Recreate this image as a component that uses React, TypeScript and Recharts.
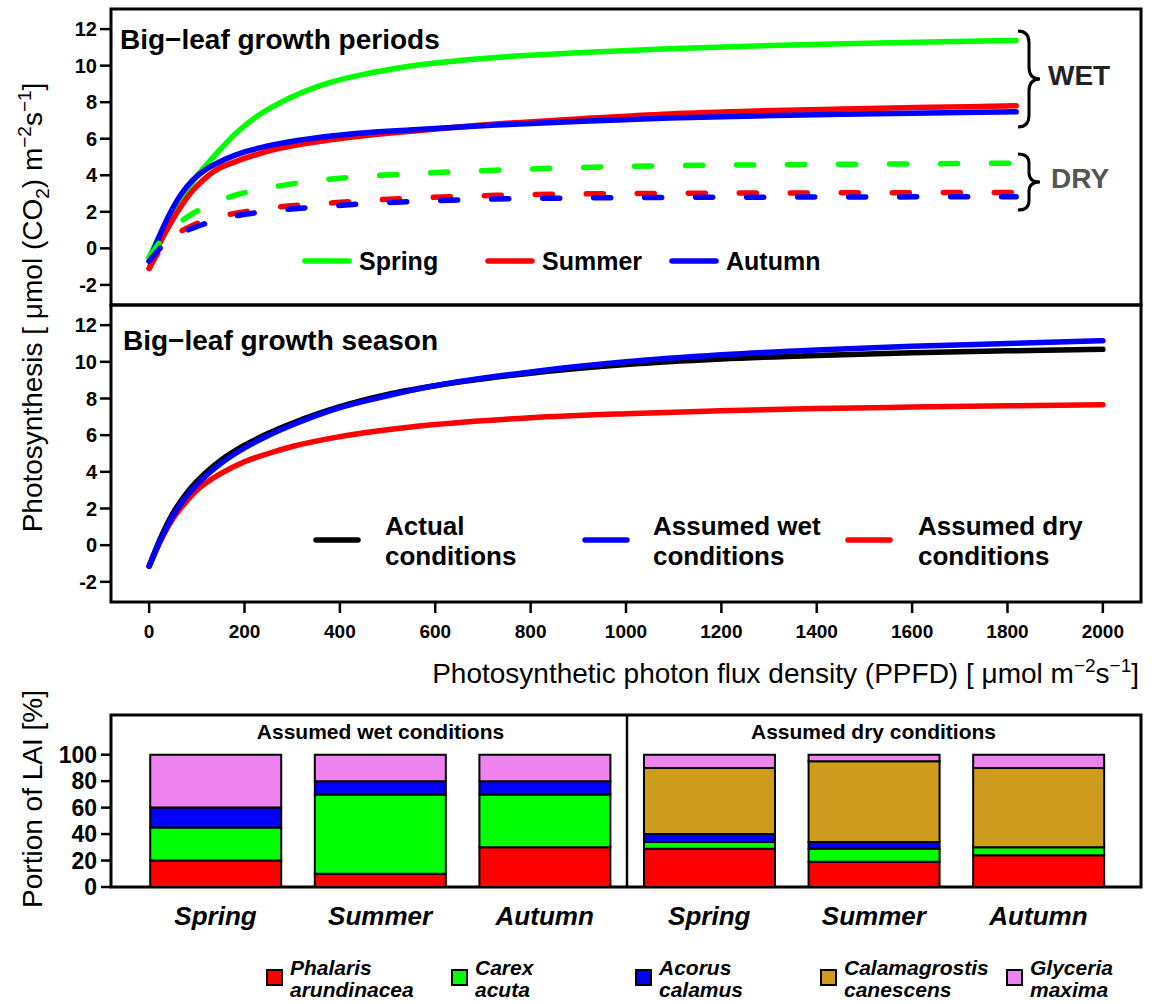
import React from "react";
import { LineChart, Line, XAxis, YAxis, ReferenceArea, ReferenceLine, BarChart, Bar } from "recharts";

const FONT = "'Liberation Sans', Arial, Helvetica, sans-serif";

// top panel: big-leaf growth periods
const ppfdPeriods = [0, 25, 50, 75, 100, 125, 150, 200, 250, 300, 400, 500, 600, 800, 1000, 1200, 1400, 1600, 1800, 2000];
const springWet = [-0.5, 0.75, 1.8, 2.78, 3.63, 4.38, 5.05, 6.3, 7.25, 7.95, 8.95, 9.55, 9.97, 10.45, 10.72, 10.92, 11.08, 11.2, 11.3, 11.38];
const summerWet = [-1.1, 0.3, 1.4, 2.35, 3.15, 3.75, 4.22, 4.75, 5.15, 5.47, 5.88, 6.17, 6.4, 6.8, 7.1, 7.36, 7.52, 7.63, 7.72, 7.8];
const autumnWet = [-0.7, 0.75, 2.0, 3.0, 3.72, 4.22, 4.58, 5.12, 5.47, 5.73, 6.1, 6.33, 6.48, 6.75, 6.95, 7.13, 7.25, 7.34, 7.41, 7.47];
const springDry = [-0.5, 0.35, 1.0, 1.5, 1.9, 2.22, 2.5, 2.92, 3.2, 3.42, 3.75, 3.95, 4.08, 4.28, 4.43, 4.52, 4.57, 4.6, 4.63, 4.66];
const summerDry = [-1.1, -0.1, 0.55, 0.95, 1.25, 1.48, 1.65, 1.93, 2.1, 2.27, 2.45, 2.62, 2.74, 2.9, 2.98, 3.01, 3.03, 3.04, 3.05, 3.06];
const autumnDry = [-0.7, 0.0, 0.5, 0.85, 1.1, 1.32, 1.5, 1.78, 1.96, 2.1, 2.28, 2.45, 2.56, 2.7, 2.76, 2.79, 2.8, 2.81, 2.82, 2.83];

// middle panel: big-leaf growth season
const ppfdSeason = [0, 25, 50, 75, 100, 125, 150, 200, 250, 300, 400, 500, 600, 800, 1000, 1200, 1400, 1600, 1800, 2000];
const actualCond = [-1.15, 0.45, 1.75, 2.72, 3.48, 4.1, 4.62, 5.45, 6.1, 6.65, 7.55, 8.22, 8.7, 9.38, 9.85, 10.15, 10.35, 10.5, 10.6, 10.68];
const wetCond = [-1.15, 0.35, 1.6, 2.55, 3.3, 3.92, 4.45, 5.3, 5.98, 6.55, 7.5, 8.15, 8.7, 9.45, 10.0, 10.38, 10.65, 10.85, 11.0, 11.15];
const dryCond = [-1.15, 0.3, 1.45, 2.3, 3.0, 3.5, 3.9, 4.55, 5.0, 5.38, 5.92, 6.3, 6.58, 6.95, 7.17, 7.33, 7.45, 7.53, 7.6, 7.66];

const xTicks = [0, 200, 400, 600, 800, 1000, 1200, 1400, 1600, 1800, 2000];
const yTicks = [-2, 0, 2, 4, 6, 8, 10, 12];

// bottom panel: portion of LAI [%]
const seasons = ["Spring", "Summer", "Autumn", "Spring", "Summer", "Autumn"];
const phalaris = [20, 10, 30, 29, 19, 24];
const carex = [25, 60, 40, 5, 10, 6];
const acorus = [15, 10, 10, 6, 5, 0];
const calamagrostis = [0, 0, 0, 50, 61, 60];
const glyceria = [40, 20, 20, 10, 5, 10];
const laiTicks = [0, 10, 20, 30, 40, 50, 60, 70, 80, 90, 100];

const genus = ["Phalaris", "Carex", "Acorus", "Calamagrostis", "Glyceria"];
const epithet = ["arundinacea", "acuta", "calamus", "canescens", "maxima"];
const speciesKeys = ["phalaris", "carex", "acorus", "calamagrostis", "glyceria"];
const speciesColors = ["#ff0000", "#00ff00", "#0000ff", "#cd9b1d", "#ee82ee"];

const periodRows = ppfdPeriods.map((p, i) => ({
  ppfd: p,
  springWet: springWet[i],
  summerWet: summerWet[i],
  autumnWet: autumnWet[i],
  springDry: springDry[i],
  summerDry: summerDry[i],
  autumnDry: autumnDry[i],
}));

const seasonRows = ppfdSeason.map((p, i) => ({
  ppfd: p,
  actual: actualCond[i],
  wet: wetCond[i],
  dry: dryCond[i],
}));

const laiRows = seasons.map((s, i) => ({
  pos: i + 1,
  season: s,
  phalaris: phalaris[i],
  carex: carex[i],
  acorus: acorus[i],
  calamagrostis: calamagrostis[i],
  glyceria: glyceria[i],
}));

const tickLine = { stroke: "#000", strokeWidth: 2.5 };
const tickFont = { fill: "#000", fontSize: 20, fontWeight: 700, fontFamily: FONT };
const LW = 5.5;

const LaiTick = (props: any) => {
  const { x, y, payload } = props;
  if (payload.value % 20 !== 0) return <g />;
  return (
    <text x={x} y={y} dy="0.36em" textAnchor="end" fill="#000" fontSize={23} fontWeight={700} fontFamily={FONT}>
      {payload.value}
    </text>
  );
};

const SeasonTick = (props: any) => {
  const { x, y, payload } = props;
  return (
    <text x={x} y={y} dy={38} textAnchor="middle" fill="#000" fontSize={26} fontWeight={700} fontStyle="italic" fontFamily={FONT}>
      {seasons[payload.value - 1]}
    </text>
  );
};

function brace(x: number, y0: number, y1: number, w: number) {
  const ym = (y0 + y1) / 2;
  const xm = x + w * 0.5;
  const q = Math.min(12, (y1 - y0) / 6);
  return `M${x},${y0} Q${xm},${y0} ${xm},${y0 + q} L${xm},${ym - q} Q${xm},${ym} ${x + w},${ym} Q${xm},${ym} ${xm},${ym + q} L${xm},${y1 - q} Q${xm},${y1} ${x},${y1}`;
}

export default function App() {
  return (
    <div style={{ position: "absolute", left: 0, top: 0, width: 1155, height: 1004, background: "#fff", fontFamily: FONT }}>
      <div style={{ position: "absolute", left: 0, top: 0 }}>
        <LineChart width={1155} height={330} data={periodRows} margin={{ top: 9, right: 14, bottom: 0, left: 0 }}>
          <XAxis dataKey="ppfd" type="number" domain={[-88, 2288]} ticks={xTicks} tick={false} tickSize={11} height={25} axisLine={false} tickLine={tickLine} />
          <YAxis type="number" domain={[-3.1, 13.1]} ticks={yTicks} width={111} tickSize={11} tickMargin={3} axisLine={false} tickLine={tickLine} tick={tickFont} />
          <ReferenceArea x1={-88} x2={2288} y1={-3.1} y2={13.1} fill="none" stroke="#000" strokeWidth={3} />
          <Line type="monotone" dataKey="springWet" stroke="#00ff00" strokeWidth={LW} dot={false} strokeLinecap="round" isAnimationActive={false} />
          <Line type="monotone" dataKey="summerWet" stroke="#ff0000" strokeWidth={LW} dot={false} strokeLinecap="round" isAnimationActive={false} />
          <Line type="monotone" dataKey="autumnWet" stroke="#0000ff" strokeWidth={LW} dot={false} strokeLinecap="round" isAnimationActive={false} />
          <Line type="monotone" dataKey="springDry" stroke="#00ff00" strokeWidth={LW} strokeDasharray="17 34" dot={false} strokeLinecap="round" isAnimationActive={false} />
          <Line type="monotone" dataKey="summerDry" stroke="#ff0000" strokeWidth={LW} strokeDasharray="17 34" dot={false} strokeLinecap="round" isAnimationActive={false} />
          <Line type="monotone" dataKey="autumnDry" stroke="#0000ff" strokeWidth={LW} strokeDasharray="17 34" dot={false} strokeLinecap="round" isAnimationActive={false} />
        </LineChart>
      </div>

      <div style={{ position: "absolute", left: 0, top: 0 }}>
        <LineChart width={1155} height={642} data={seasonRows} margin={{ top: 305, right: 14, bottom: 0, left: 0 }}>
          <XAxis dataKey="ppfd" type="number" domain={[-80, 2080]} ticks={xTicks} tickSize={11} tickMargin={12} height={40} axisLine={false} tickLine={tickLine} tick={{ ...tickFont, fontSize: 19 }} />
          <YAxis type="number" domain={[-3.1, 13.1]} ticks={yTicks} width={111} tickSize={11} tickMargin={3} axisLine={false} tickLine={tickLine} tick={tickFont} />
          <ReferenceArea x1={-80} x2={2080} y1={-3.1} y2={13.1} fill="none" stroke="#000" strokeWidth={3} />
          <Line type="monotone" dataKey="dry" stroke="#ff0000" strokeWidth={LW} dot={false} strokeLinecap="round" isAnimationActive={false} />
          <Line type="monotone" dataKey="actual" stroke="#000000" strokeWidth={LW} dot={false} strokeLinecap="round" isAnimationActive={false} />
          <Line type="monotone" dataKey="wet" stroke="#0000ff" strokeWidth={LW} dot={false} strokeLinecap="round" isAnimationActive={false} />
        </LineChart>
      </div>

      <div style={{ position: "absolute", left: 0, top: 700 }}>
        <BarChart width={1155} height={245} data={laiRows} margin={{ top: 15, right: 14, bottom: 0, left: 0 }}>
          <XAxis dataKey="pos" type="number" domain={[0.365, 6.623]} ticks={[1, 2, 3, 4, 5, 6]} tickSize={0} tickMargin={0} height={58} axisLine={false} tickLine={false} tick={<SeasonTick />} />
          <YAxis type="number" domain={[0, 130]} ticks={laiTicks} width={111} tickSize={10} tickMargin={4} axisLine={false} tickLine={tickLine} tick={<LaiTick />} />
          {speciesKeys.map((k, i) => (
            <Bar key={k} dataKey={k} stackId="lai" fill={speciesColors[i]} stroke="#000" strokeWidth={2} barSize={131} isAnimationActive={false} />
          ))}
          <ReferenceLine x={3.5} stroke="#000" strokeWidth={2.5} />
          <ReferenceArea x1={0.365} x2={6.623} y1={0} y2={130} fill="none" stroke="#000" strokeWidth={3} />
        </BarChart>
      </div>

      <svg width={1155} height={1004} style={{ position: "absolute", left: 0, top: 0, pointerEvents: "none" }} fontFamily={FONT}>
        <text x={120} y={48.5} fontSize={28} fontWeight={700}>Big−leaf growth periods</text>
        <text x={123} y={350} fontSize={28} fontWeight={700}>Big−leaf growth season</text>

        <path d={brace(1018, 31, 127, 22)} fill="none" stroke="#000" strokeWidth={3} />
        <path d={brace(1018, 154, 210, 22)} fill="none" stroke="#000" strokeWidth={3} />
        <text x={1048} y={85} fontSize={28} fontWeight={700} fill="#222">WET</text>
        <text x={1051} y={188} fontSize={28} fontWeight={700} fill="#555">DRY</text>

        {/* growth periods legend */}
        {[
          { c: "#00ff00", x: 302, t: "Spring" },
          { c: "#ff0000", x: 485, t: "Summer" },
          { c: "#0000ff", x: 669, t: "Autumn" },
        ].map((d) => (
          <g key={d.t}>
            <line x1={d.x + 3} x2={d.x + 47} y1={261} y2={261} stroke={d.c} strokeWidth={5.5} strokeLinecap="round" />
            <text x={d.x + 57} y={270} fontSize={25} fontWeight={700}>{d.t}</text>
          </g>
        ))}

        {/* growth season legend */}
        {[
          { c: "#000000", x: 313, a: "Actual", tx: 385 },
          { c: "#0000ff", x: 582, a: "Assumed wet", tx: 653 },
          { c: "#ff0000", x: 845, a: "Assumed dry", tx: 918 },
        ].map((d) => (
          <g key={d.a}>
            <line x1={d.x + 3} x2={d.x + 45} y1={540} y2={540} stroke={d.c} strokeWidth={5.5} strokeLinecap="round" />
            <text x={d.tx} y={535} fontSize={26} fontWeight={700}>{d.a}</text>
            <text x={d.tx} y={565} fontSize={26} fontWeight={700}>conditions</text>
          </g>
        ))}

        {/* axis titles */}
        <text transform="rotate(-90)" x={-307.5} y={42} textAnchor="middle" fontSize={28}>
          Photosynthesis [ μmol (CO<tspan dy={7} fontSize={19}>2</tspan>
          <tspan dy={-7}>) m</tspan>
          <tspan dy={-11} fontSize={19}>−2</tspan>
          <tspan dy={11}>s</tspan>
          <tspan dy={-11} fontSize={19}>−1</tspan>
          <tspan dy={11}>]</tspan>
        </text>
        <text x={1139} y={683} textAnchor="end" fontSize={28}>
          Photosynthetic photon flux density (PPFD) [ μmol m<tspan dy={-11} fontSize={19}>−2</tspan>
          <tspan dy={11}>s</tspan>
          <tspan dy={-11} fontSize={19}>−1</tspan>
          <tspan dy={11}>]</tspan>
        </text>
        <text transform="rotate(-90)" x={-799} y={42} textAnchor="middle" fontSize={28}>Portion of LAI [%]</text>

        <text x={380.5} y={739} textAnchor="middle" fontSize={21} fontWeight={700}>Assumed wet conditions</text>
        <text x={873.5} y={739} textAnchor="middle" fontSize={21} fontWeight={700}>Assumed dry conditions</text>

        {/* species legend */}
        {genus.map((g, i) => {
          const sx = [267, 452, 636, 821, 1007][i];
          return (
            <g key={g}>
              <rect x={sx} y={970} width={15} height={15} fill={speciesColors[i]} stroke="#000" strokeWidth={2} />
              <text x={sx + 23} y={975} fontSize={21} fontWeight={700} fontStyle="italic">{g}</text>
              <text x={sx + 23} y={997} fontSize={21} fontWeight={700} fontStyle="italic">{epithet[i]}</text>
            </g>
          );
        })}
      </svg>
    </div>
  );
}
